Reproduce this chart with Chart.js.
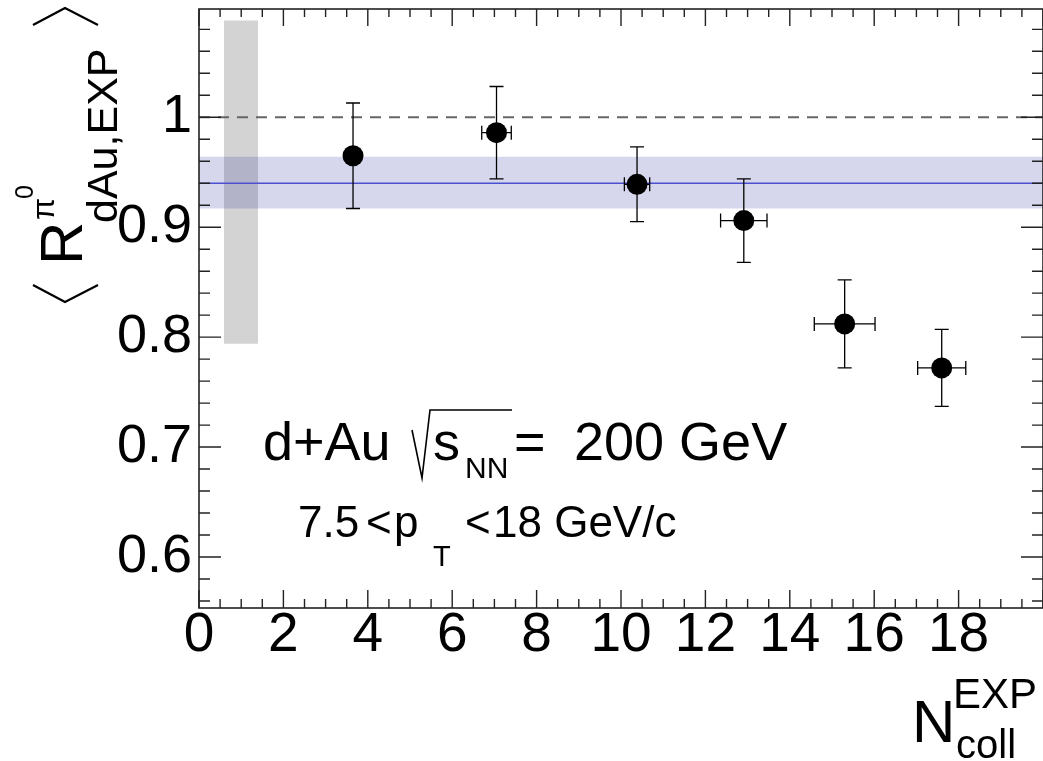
<!DOCTYPE html>
<html>
<head>
<meta charset="utf-8">
<script src="https://cdn.jsdelivr.net/npm/chart.js@4.4.1/dist/chart.umd.min.js"></script>
<style>
  html, body { margin: 0; padding: 0; background: #fff; }
  canvas { display: block; }
</style>
</head>
<body>
<canvas id="rdauChart" width="1043" height="761"></canvas>
<script>
// pi0 <R_dAu> vs N_coll, 7.5 < pT < 18 GeV/c
const ncoll = [3.65, 7.05, 10.38, 12.91, 15.30, 17.60];
const ncollErr = [0.15, 0.35, 0.30, 0.55, 0.72, 0.57];
const rdau = [0.965, 0.986, 0.939, 0.906, 0.812, 0.772];
const rdauErr = [0.048, 0.042, 0.034, 0.038, 0.040, 0.035];

// constant fit and its band
const fitMean = 0.940;
const fitLow = 0.917;
const fitHigh = 0.964;

// global normalisation box
const sysX = [0.59, 1.40];
const sysY = [0.794, 1.088];

// reference at unity
const refLevel = 1.0;

const xRange = [0, 20];
const yRange = [0.5536, 1.0985];
const xMajorStep = 2;
const xMinorStep = 0.5;
const yMajorStep = 0.1;
const yMinorStep = 0.02;

const FONT = '"Liberation Sans", Arial, Helvetica, sans-serif';

const points = ncoll.map((x, i) => ({ x: x, y: rdau[i] }));

// error bars, drawn just before the markers
const errorBars = {
  id: 'errorBars',
  beforeDatasetDraw(chart, args) {
    if (args.index !== 0) return;
    const ctx = chart.ctx;
    const xs = chart.scales.x, ys = chart.scales.y;
    const cap = 7;
    ctx.save();
    ctx.strokeStyle = '#000';
    ctx.lineWidth = 1.3;
    ncoll.forEach((x, i) => {
      const px = xs.getPixelForValue(x);
      const py = ys.getPixelForValue(rdau[i]);
      const yTop = ys.getPixelForValue(rdau[i] + rdauErr[i]);
      const yBot = ys.getPixelForValue(rdau[i] - rdauErr[i]);
      const xL = xs.getPixelForValue(x - ncollErr[i]);
      const xR = xs.getPixelForValue(x + ncollErr[i]);
      ctx.beginPath();
      ctx.moveTo(px, yTop); ctx.lineTo(px, yBot);
      ctx.moveTo(px - cap, yTop); ctx.lineTo(px + cap, yTop);
      ctx.moveTo(px - cap, yBot); ctx.lineTo(px + cap, yBot);
      ctx.moveTo(xL, py); ctx.lineTo(xR, py);
      ctx.moveTo(xL, py - cap); ctx.lineTo(xL, py + cap);
      ctx.moveTo(xR, py - cap); ctx.lineTo(xR, py + cap);
      ctx.stroke();
    });
    ctx.restore();
  }
};

// ROOT style frame with inward ticks on all four sides
const frameTicks = {
  id: 'frameTicks',
  afterDraw(chart) {
    const ctx = chart.ctx;
    const a = chart.chartArea;
    const xs = chart.scales.x, ys = chart.scales.y;
    ctx.save();
    ctx.strokeStyle = '#222';
    ctx.lineWidth = 1.6;
    ctx.strokeRect(a.left, a.top, a.right - a.left, a.bottom - a.top);
    ctx.lineWidth = 1.4;
    ctx.beginPath();
    for (let v = xRange[0]; v <= xRange[1] + 1e-9; v += xMinorStep) {
      const major = Math.abs(v / xMajorStep - Math.round(v / xMajorStep)) < 1e-6;
      const px = xs.getPixelForValue(v);
      const lb = major ? 18 : 9, lt = major ? 17 : 8;
      ctx.moveTo(px, a.bottom); ctx.lineTo(px, a.bottom - lb);
      ctx.moveTo(px, a.top); ctx.lineTo(px, a.top + lt);
    }
    for (let k = Math.ceil(yRange[0] / yMinorStep); k * yMinorStep <= yRange[1]; k++) {
      const v = k * yMinorStep;
      const major = k % 5 === 0;
      const py = ys.getPixelForValue(v);
      const l = major ? 22 : 11;
      ctx.moveTo(a.left, py); ctx.lineTo(a.left + l, py);
      ctx.moveTo(a.right, py); ctx.lineTo(a.right - l, py);
    }
    ctx.stroke();
    ctx.restore();
  }
};

// axis titles and the text box
const labels = {
  id: 'labels',
  afterDraw(chart) {
    const ctx = chart.ctx;
    ctx.save();
    ctx.fillStyle = '#000';
    ctx.strokeStyle = '#000';
    ctx.textBaseline = 'alphabetic';
    ctx.textAlign = 'left';

    // d+Au sqrt(s_NN) = 200 GeV
    ctx.font = '54px ' + FONT;
    ctx.fillText('d+Au', 263, 460);
    ctx.lineWidth = 1.6;
    ctx.beginPath();
    ctx.moveTo(412, 430); ctx.lineTo(422, 478); ctx.lineTo(430, 410); ctx.lineTo(512, 410);
    ctx.stroke();
    ctx.fillText('s', 433, 460);
    ctx.font = '30px ' + FONT;
    ctx.fillText('NN', 465, 478);
    ctx.font = '54px ' + FONT;
    ctx.fillText('=', 514, 460);
    ctx.fillText('200 GeV', 574, 460);

    // 7.5 < pT < 18 GeV/c
    ctx.font = '44px ' + FONT;
    ctx.fillText('7.5', 298, 537);
    ctx.fillText('<', 366, 537);
    ctx.fillText('p', 394, 537);
    ctx.fillText('<', 465, 537);
    ctx.fillText('18 GeV/c', 493, 537);
    ctx.font = '29px ' + FONT;
    ctx.fillText('T', 433, 566);

    // x title N_coll^EXP
    ctx.font = '60px ' + FONT;
    ctx.fillText('N', 912, 742);
    ctx.font = '42px ' + FONT;
    ctx.fillText('EXP', 953, 708);
    ctx.font = '40px ' + FONT;
    ctx.fillText('coll', 956, 758);

    // y title < R^{pi0}_{dAu,EXP} >, rotated
    ctx.save();
    ctx.translate(82, 265);
    ctx.rotate(-Math.PI / 2);
    ctx.font = '60px ' + FONT;
    ctx.fillText('R', 0, 0);
    ctx.font = '43px ' + FONT;
    ctx.fillText('dAu,EXP', 42, 35);
    ctx.font = '32px ' + FONT;
    ctx.fillText('\u03C0', 45, -28);
    ctx.font = '25px ' + FONT;
    ctx.fillText('0', 66, -49);
    ctx.restore();

    ctx.lineWidth = 2.2;
    ctx.beginPath();
    ctx.moveTo(33, 25); ctx.lineTo(65, 8); ctx.lineTo(98, 25);
    ctx.moveTo(33, 285); ctx.lineTo(65, 302); ctx.lineTo(98, 285);
    ctx.stroke();
    ctx.restore();
  }
};

const ctx = document.getElementById('rdauChart').getContext('2d');
new Chart(ctx, {
  type: 'scatter',
  data: {
    datasets: [
      {
        label: 'pi0 RdAu',
        data: points,
        pointRadius: 10.5,
        pointHoverRadius: 10.5,
        pointBackgroundColor: '#000',
        pointBorderWidth: 0,
        showLine: false,
        order: 0
      },
      {
        type: 'line',
        label: 'unity',
        data: [{ x: xRange[0], y: refLevel }, { x: xRange[1], y: refLevel }],
        borderColor: '#666',
        borderWidth: 2,
        borderDash: [11, 8],
        pointRadius: 0,
        order: 1
      },
      {
        type: 'line',
        label: 'fit',
        data: [{ x: xRange[0], y: fitMean }, { x: xRange[1], y: fitMean }],
        borderColor: '#4b50cf',
        borderWidth: 1.5,
        pointRadius: 0,
        order: 2
      },
      {
        type: 'line',
        label: 'fit band',
        data: [{ x: xRange[0], y: fitHigh }, { x: xRange[1], y: fitHigh }],
        borderWidth: 0,
        borderColor: 'rgba(0,0,0,0)',
        backgroundColor: 'rgba(50,55,160,0.2)',
        pointRadius: 0,
        fill: { target: { value: fitLow }, above: 'rgba(50,55,160,0.2)', below: 'rgba(50,55,160,0.2)' },
        order: 3
      },
      {
        type: 'line',
        label: 'global sys',
        data: [{ x: sysX[0], y: sysY[1] }, { x: sysX[1], y: sysY[1] }],
        borderWidth: 0,
        borderColor: 'rgba(0,0,0,0)',
        backgroundColor: '#d3d3d3',
        pointRadius: 0,
        fill: { target: { value: sysY[0] }, above: '#d3d3d3', below: '#d3d3d3' },
        order: 4
      }
    ]
  },
  options: {
    responsive: false,
    animation: false,
    events: [],
    layout: { autoPadding: false, padding: { top: 9, right: 0, left: 0, bottom: 0 } },
    plugins: {
      legend: { display: false },
      tooltip: { enabled: false }
    },
    scales: {
      x: {
        type: 'linear',
        min: xRange[0],
        max: xRange[1],
        grid: { display: false, drawTicks: false },
        border: { display: false },
        ticks: {
          stepSize: xMajorStep,
          autoSkip: false,
          maxRotation: 0,
          padding: -5,
          color: '#000',
          font: { family: FONT, size: 55 },
          callback: v => (v >= xRange[1] ? '' : String(v))
        },
        afterFit: s => {
          s.height = 153;
          s.paddingLeft = 0;
          s.paddingRight = 0;
        }
      },
      y: {
        min: yRange[0],
        max: yRange[1],
        grid: { display: false, drawTicks: false },
        border: { display: false },
        ticks: {
          stepSize: yMajorStep,
          includeBounds: false,
          padding: 7,
          color: '#000',
          font: { family: FONT, size: 54 },
          callback: v => String(Math.round(v * 10) / 10)
        },
        afterFit: s => {
          s.width = 199;
          s.paddingTop = 0;
          s.paddingBottom = 0;
        }
      }
    }
  },
  plugins: [errorBars, frameTicks, labels]
});
</script>
</body>
</html>
